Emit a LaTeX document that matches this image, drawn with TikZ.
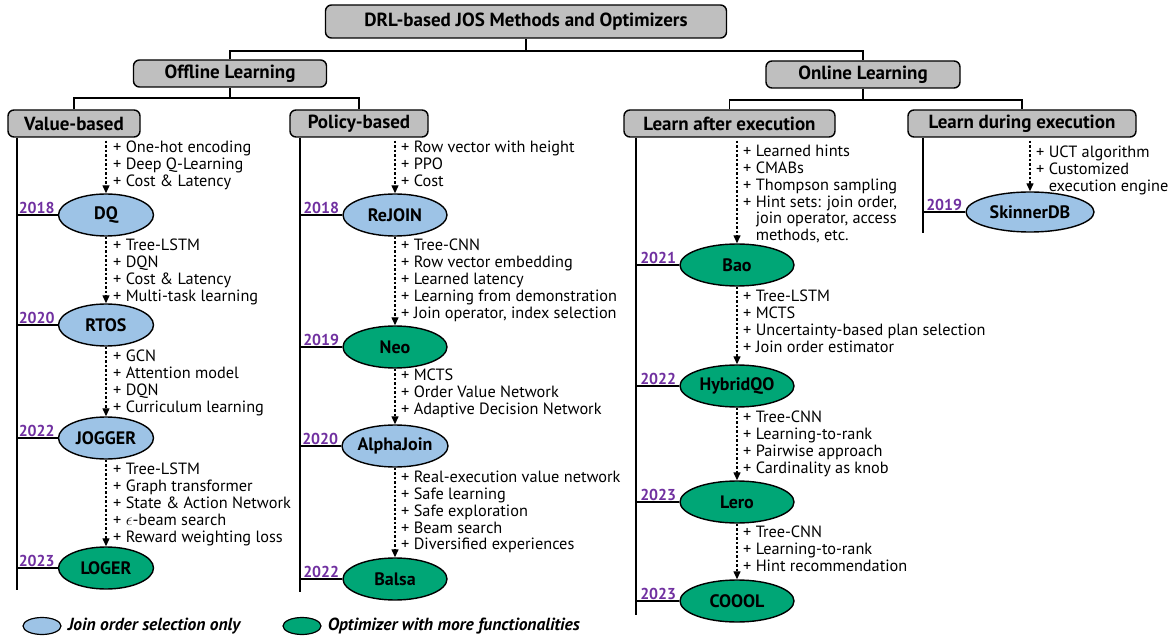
\documentclass[tikz,border=0pt]{standalone}
\usepackage{fontspec}
\setmainfont{PT Sans}
\usetikzlibrary{positioning,calc,shapes.geometric,arrows.meta}

\definecolor{boxgray}{HTML}{BFBFBF}
\definecolor{joblue}{HTML}{9DC3E6}
\definecolor{optgreen}{HTML}{00A676}
\definecolor{yearpurple}{HTML}{7030A0}

\tikzset{
  catbox/.style={draw, line width=1.4pt, rounded corners=6pt, fill=boxgray,
    font=\fontsize{19}{22}\selectfont\bfseries, minimum height=27pt, inner sep=0pt},
  method/.style={ellipse, draw, line width=1.4pt, minimum height=42pt, inner sep=0pt,
    font=\fontsize{18}{21}\selectfont\bfseries},
  joonly/.style={method, fill=joblue},
  fullopt/.style={method, fill=optgreen},
  year/.style={text=yearpurple, font=\fontsize{15.8}{18}\selectfont\bfseries, inner sep=0pt},
  items/.style={align=left, anchor=north west, inner sep=0pt, font=\fontsize{16.3}{16.8}\selectfont},
  tree/.style={line width=1.4pt},
  timeline/.style={line width=1.8pt},
  flow/.style={line width=1.3pt, dash pattern=on 2.5pt off 2pt, -{Triangle[length=8pt,width=7pt]}},
  legtext/.style={font=\fontsize{17.5}{20}\selectfont\bfseries\itshape, inner sep=0pt}
}

\begin{document}
\begin{tikzpicture}[x=1pt, y=-1pt]
\useasboundingbox (0,0) rectangle (1173,636);

% categories
\node[catbox, minimum width=401pt, minimum height=33pt] (root) at (526,21.5) {DRL-based JOS Methods and Optimizers};
\node[catbox, minimum width=193pt] (offline) at (230,73.5) {Offline Learning};
\node[catbox, minimum width=194pt] (online) at (863,74.5) {Online Learning};
\node[catbox, minimum width=132pt] (valbased) at (74,123.5) {Value-based};
\node[catbox, minimum width=138pt] (polbased) at (359,123.5) {Policy-based};
\node[catbox, minimum width=211pt] (lafter) at (729.5,123.5) {Learn after execution};
\node[catbox, minimum width=228pt] (lduring) at (1022,123.5) {Learn during execution};

\coordinate (j0) at (526,51);
\coordinate (j1) at (230,98);
\coordinate (j2) at (863,100);
\draw[tree] (root.south) -- (j0);
\draw[tree] (offline.north) |- (j0) -| (online.north);
\draw[tree] (offline.south) -- (j1);
\draw[tree] (valbased.north) |- (j1) -| (polbased.north);
\draw[tree] (online.south) -- (j2);
\draw[tree] (lafter.north) |- (j2) -| (lduring.north);

% timelines
\coordinate (tlval) at (17,590);
\coordinate (tlpol) at (300,592);
\coordinate (tlaft) at (636,615);
\coordinate (tldur) at (923,233);
\draw[timeline] (tlval |- valbased.south) -- (tlval);
\draw[timeline] (tlpol |- polbased.south) -- (tlpol);
\draw[timeline] (tlaft |- lafter.south) -- (tlaft);
\draw[timeline] (tldur |- lduring.south) -- (tldur);

% value-based
\node[joonly, minimum width=95pt] (dq) at (106,215) {DQ};
\node[joonly, minimum width=95pt] (rtos) at (106,325) {RTOS};
\node[joonly, minimum width=95pt] (jogger) at (106,438) {JOGGER};
\node[fullopt, minimum width=95pt] (loger) at (106,568) {LOGER};

% policy-based
\node[joonly, minimum width=104pt] (rejoin) at (395,215) {ReJOIN};
\node[fullopt, minimum width=104pt] (neo) at (395,347) {Neo};
\node[joonly, minimum width=104pt] (alphajoin) at (395,446) {AlphaJoin};
\node[fullopt, minimum width=104pt] (balsa) at (395,579) {Balsa};

% learn after execution
\node[fullopt, minimum width=114pt] (bao) at (737,265) {Bao};
\node[fullopt, minimum width=114pt] (hybridqo) at (737,386) {HybridQO};
\node[fullopt, minimum width=114pt] (lero) at (737,502) {Lero};
\node[fullopt, minimum width=114pt] (coool) at (737,601) {COOOL};

% learn during execution
\node[joonly, minimum width=128pt, minimum height=40pt] (skinner) at (1030,212) {SkinnerDB};

% years and ticks
\foreach \m/\yr in {dq/2018, rtos/2020, jogger/2022, loger/2023}{
  \draw[timeline] (\m.west) -- (\m.west -| tlval);
  \node[year, above left=1pt and 3pt of \m.west] {\yr};
}
\foreach \m/\yr in {rejoin/2018, neo/2019, alphajoin/2020, balsa/2022}{
  \draw[timeline] (\m.west) -- (\m.west -| tlpol);
  \node[year, above left=1pt and 3pt of \m.west] {\yr};
}
\foreach \m/\yr in {bao/2021, hybridqo/2022, lero/2023, coool/2023}{
  \draw[timeline] (\m.west) -- (\m.west -| tlaft);
  \node[year, above left=1pt and 3pt of \m.west] {\yr};
}
\draw[timeline] (skinner.west) -- (skinner.west -| tldur);
\node[year, above left=1pt and 3pt of skinner.west] {2019};

% dashed flows
\draw[flow] ($(dq |- valbased.south)+(0,3)$) -- (dq.north);
\draw[flow] (dq.south) -- (rtos.north);
\draw[flow] (rtos.south) -- (jogger.north);
\draw[flow] (jogger.south) -- (loger.north);
\draw[flow] ($(rejoin |- polbased.south)+(0,3)$) -- (rejoin.north);
\draw[flow] (rejoin.south) -- (neo.north);
\draw[flow] (neo.south) -- (alphajoin.north);
\draw[flow] (alphajoin.south) -- (balsa.north);
\draw[flow] ($(bao |- lafter.south)+(0,3)$) -- (bao.north);
\draw[flow] (bao.south) -- (hybridqo.north);
\draw[flow] (hybridqo.south) -- (lero.north);
\draw[flow] (lero.south) -- (coool.north);
\draw[flow] ($(skinner |- lduring.south)+(0,3)$) -- (skinner.north);

% techniques
\node[items] (tdq) at (113,141) {+ One-hot encoding\\+ Deep Q-Learning\\+ Cost \& Latency};
\node[items] (trtos) at (113,239) {+ Tree-LSTM\\+ DQN\\+ Cost \& Latency\\+ Multi-task learning};
\node[items] (tjogger) at (113,350) {+ GCN\\+ Attention model\\+ DQN\\+ Curriculum learning};
\node[items] (tloger) at (113,463) {+ Tree-LSTM\\+ Graph transformer\\+ State \& Action Network\\+ $\epsilon$-beam search\\+ Reward weighting loss};

\node[items] (trejoin) at (401,141) {+ Row vector with height\\+ PPO\\+ Cost};
\node[items] (tneo) at (401,239) {+ Tree-CNN\\+ Row vector embedding\\+ Learned latency\\+ Learning from demonstration\\+ Join operator, index selection};
\node[items] (talpha) at (401,369) {+ MCTS\\+ Order Value Network\\+ Adaptive Decision Network};
\node[items] (tbalsa) at (401,471) {+ Real-execution value network\\+ Safe learning\\+ Safe exploration\\+ Beam search\\+ Diversified experiences};

\node[items] (tbao) at (743,145) {+ Learned hints\\+ CMABs\\+ Thompson sampling\\+ Hint sets: join order,\\\hphantom{+ }join operator, access\\\hphantom{+ }methods, etc.};
\node[items] (thybrid) at (743,290) {+ Tree-LSTM\\+ MCTS\\+ Uncertainty-based plan selection\\+ Join order estimator};
\node[items] (tlero) at (743,411) {+ Tree-CNN\\+ Learning-to-rank\\+ Pairwise approach\\+ Cardinality as knob};
\node[items] (tcoool) at (743,526) {+ Tree-CNN\\+ Learning-to-rank\\+ Hint recommendation};

\node[items] (tskinner) at (1036,146) {+ UCT algorithm\\+ Customized\\\hphantom{+ }execution engine};

% legend
\node[joonly, minimum width=38pt, minimum height=17pt, line width=1.2pt] (keyjo) at (42,626) {};
\node[legtext, right=6pt of keyjo] (keyjotext) {Join order selection only};
\node[fullopt, minimum width=38pt, minimum height=17pt, line width=1.2pt] (keyopt) at (302,626) {};
\node[legtext, right=6pt of keyopt] (keyopttext) {Optimizer with more functionalities};
\end{tikzpicture}
\end{document}
